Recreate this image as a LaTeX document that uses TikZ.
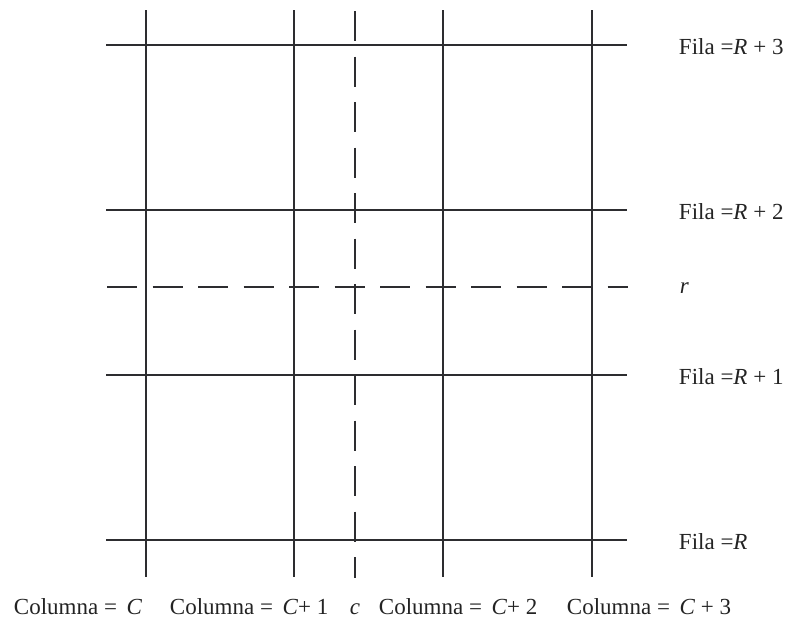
\documentclass[tikz,border=0pt]{standalone}
\usepackage{fontspec}
\setmainfont{Liberation Serif}
\usetikzlibrary{calc}

\begin{document}
\begin{tikzpicture}[x=1pt,y=-1pt,line width=1.3pt,
  font=\fontsize{23}{27}\selectfont]
\definecolor{gridcolor}{RGB}{45,45,48}
\definecolor{labelcolor}{RGB}{35,35,35}
\tikzset{
  gridline/.style={gridcolor},
  guideline/.style={gridcolor,dash pattern=on 30pt off 15.5pt},
  rowlabel/.style={labelcolor,anchor=base west},
  collabel/.style={labelcolor,anchor=base west}
}
\useasboundingbox (0,0) rectangle (790,619);

% Grid rows R .. R+3 and columns C .. C+3 (pixel coordinates, y downwards).
\draw[gridline] (106,45)--(627,45);
\draw[gridline] (106,210)--(627,210);
\draw[gridline] (106,375)--(627,375);
\draw[gridline] (106,540)--(627,540);
\draw[gridline] (146,10)--(146,577);
\draw[gridline] (294,10)--(294,577);
\draw[gridline] (443,10)--(443,577);
\draw[gridline] (592,10)--(592,577);

% The point (r,c) lies between the grid lines.
\draw[guideline] (107,287)--(628,287);
\draw[guideline] (355,11)--(355,578);

% Row labels on the right.
\node[rowlabel] (fila3) at (675,54) {Fila =\textit{R} + 3};
\node[rowlabel] (fila2) at (675,219) {Fila =\textit{R} + 2};
\node[rowlabel] (rlab) at (676,293) {\textit{r}};
\node[rowlabel] (fila1) at (675,384) {Fila =\textit{R} + 1};
\node[rowlabel] (fila0) at (675,549) {Fila =\textit{R}};

% Column labels along the bottom.
\node[collabel] (col0) at (10,614) {Columna = \,\textit{C}};
\node[collabel] (col1) at (166,614) {Columna = \,\textit{C}+ 1};
\node[collabel] (clab) at (346,614) {\textit{c}};
\node[collabel] (col2) at (375,614) {Columna = \,\textit{C}+ 2};
\node[collabel] (col3) at (563,614) {Columna = \,\textit{C} + 3};
\end{tikzpicture}
\end{document}
